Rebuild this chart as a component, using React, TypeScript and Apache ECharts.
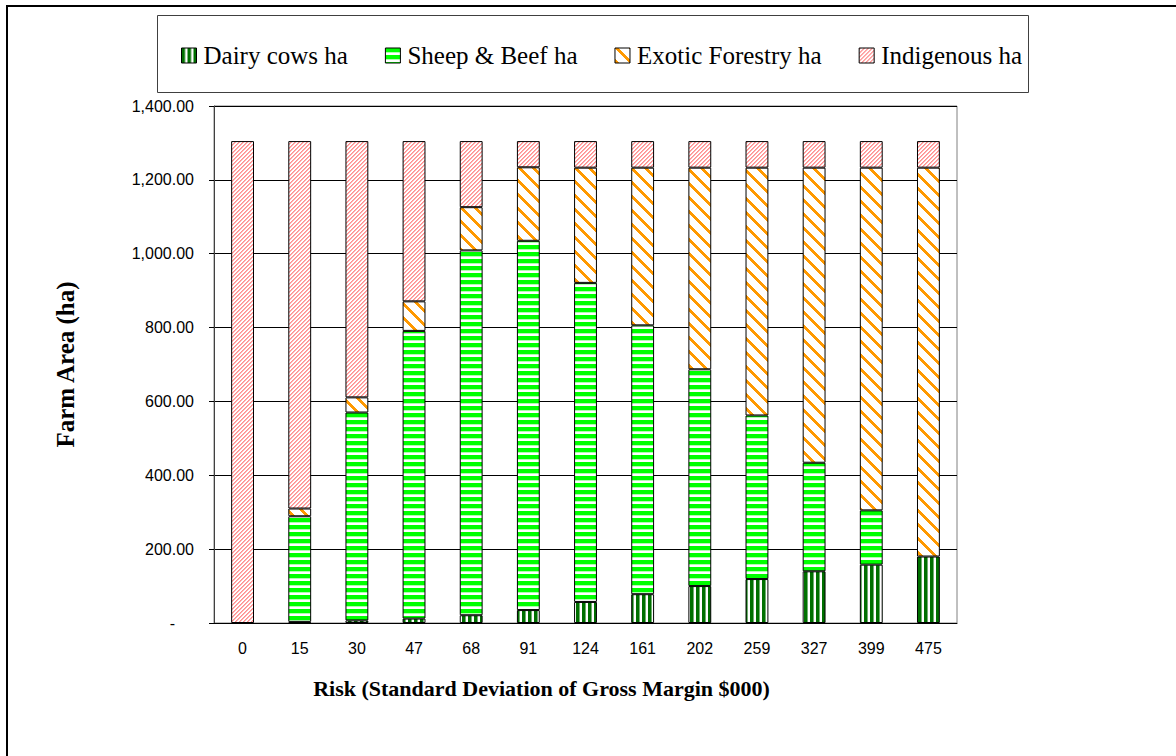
import { useEffect, useRef } from "react";
import * as echarts from "echarts";

const categories = ["0", "15", "30", "47", "68", "91", "124", "161", "202", "259", "327", "399", "475"];
const dairyCows = [0, 3, 7, 12, 21, 35, 57, 78, 100, 119, 140, 158, 180];
const sheepBeef = [0, 286, 563, 779, 988, 1000, 864, 728, 587, 443, 294, 147, 0];
const exoticForestry = [0, 21, 41, 80, 117, 199, 312, 427, 546, 671, 799, 928, 1053];
const indigenous = [1305, 995, 694, 434, 179, 71, 72, 72, 72, 72, 72, 72, 72];
const seriesNames = ["Dairy cows ha", "Sheep & Beef ha", "Exotic Forestry ha", "Indigenous ha"];
const yMin = 0;
const yMax = 1400;
const yInterval = 200;

function makePattern(w: number, h: number, fn: (x: number, y: number) => string) {
  const c = document.createElement("canvas");
  c.width = w;
  c.height = h;
  const ctx = c.getContext("2d")!;
  for (let y = 0; y < h; y++) {
    for (let x = 0; x < w; x++) {
      ctx.fillStyle = fn(x, y);
      ctx.fillRect(x, y, 1, 1);
    }
  }
  return { image: c, repeat: "repeat", imageWidth: w, imageHeight: h } as any;
}

export default function App() {
  const ref = useRef<HTMLDivElement>(null);
  useEffect(() => {
    document.body.style.margin = "0";
    const chart = echarts.init(ref.current!, null, { renderer: "svg" });

    const dairyPat = makePattern(6, 4, (x) =>
      x < 3 ? "#007000" : x === 3 ? "#70b070" : "#ffffff"
    );
    const sheepPat = makePattern(4, 7, (_x, y) =>
      y < 4 ? "#00ff00" : y === 4 ? "#b0ffb0" : "#ffffff"
    );
    const exoticP = 14;
    const exoticPat = makePattern(exoticP, exoticP, (x, y) =>
      (((x - y) % exoticP) + exoticP) % exoticP < 4 ? "#ff9900" : "#ffffff"
    );
    const indigP = 4;
    const indigPat = makePattern(indigP, indigP, (x, y) => {
      const k = (x + y) % indigP;
      return k === 0 ? "#ff9090" : k === 1 ? "#ffb0b0" : "#ffffff";
    });
    const pats = [dairyPat, sheepPat, exoticPat, indigPat];
    const datas = [dairyCows, sheepBeef, exoticForestry, indigenous];

    const serif = "'Liberation Serif', 'Times New Roman', serif";
    const sans = "'Liberation Sans', Arial, sans-serif";

    chart.setOption({
      animation: false,
      backgroundColor: "#ffffff",
      graphic: [
        {
          type: "rect",
          shape: { x: 7, y: 6, width: 1200, height: 800 },
          style: { fill: "none", stroke: "#000", lineWidth: 2 },
          silent: true,
        },
        {
          type: "rect",
          shape: { x: 157.5, y: 15.5, width: 871, height: 77 },
          style: { fill: "none", stroke: "#404040", lineWidth: 1 },
          silent: true,
        },
      ],
      legend: {
        left: 176,
        top: 38,
        icon: "rect",
        itemWidth: 15,
        itemHeight: 15,
        itemGap: 37,
        itemStyle: { borderColor: "#000", borderWidth: 1 },
        textStyle: { fontFamily: serif, fontSize: 25, color: "#000", padding: [0, 0, 0, 2] },
        data: seriesNames,
      },
      grid: {
        left: 214,
        top: 106,
        right: 219,
        bottom: 133,
        show: true,
        borderColor: "#808080",
        borderWidth: 1,
        backgroundColor: "transparent",
      },
      xAxis: {
        type: "category",
        data: categories,
        name: "Risk (Standard Deviation of Gross Margin $000)",
        nameLocation: "middle",
        nameGap: 54,
        nameTextStyle: {
          fontFamily: serif,
          fontSize: 22,
          fontWeight: "bold",
          color: "#000",
          padding: [0, 88, 0, 0],
        },
        axisLine: { lineStyle: { color: "#000", width: 1 } },
        axisTick: { length: 5, lineStyle: { color: "#000" } },
        axisLabel: { fontFamily: sans, fontSize: 16, color: "#000", margin: 17 },
      },
      yAxis: {
        type: "value",
        min: yMin,
        max: yMax,
        interval: yInterval,
        name: "Farm Area (ha)",
        nameLocation: "middle",
        nameGap: 136,
        nameTextStyle: { fontFamily: serif, fontSize: 25, fontWeight: "bold", color: "#000" },
        axisLine: { show: true, lineStyle: { color: "#404040", width: 1 } },
        axisTick: { show: true, length: 5, lineStyle: { color: "#000" } },
        axisLabel: {
          fontFamily: sans,
          fontSize: 16,
          color: "#000",
          margin: 20,
          formatter: (v: number) =>
            v === 0
              ? "{d|-}"
              : v.toLocaleString("en-US", { minimumFractionDigits: 2, maximumFractionDigits: 2 }),
          rich: { d: { fontFamily: sans, fontSize: 16, color: "#000", padding: [0, 19, 0, 0] } },
        },
        splitLine: { show: true, lineStyle: { color: "#000", width: 1 } },
      },
      series: seriesNames.map((name, i) => ({
        name,
        type: "bar",
        stack: "total",
        barWidth: "40%",
        data: datas[i].map((v) => (v === 0 ? null : v)),
        itemStyle: { color: pats[i], borderColor: "#000", borderWidth: 1 },
      })),
    });
    return () => chart.dispose();
  }, []);
  return <div ref={ref} style={{ width: 1176, height: 756 }} />;
}
